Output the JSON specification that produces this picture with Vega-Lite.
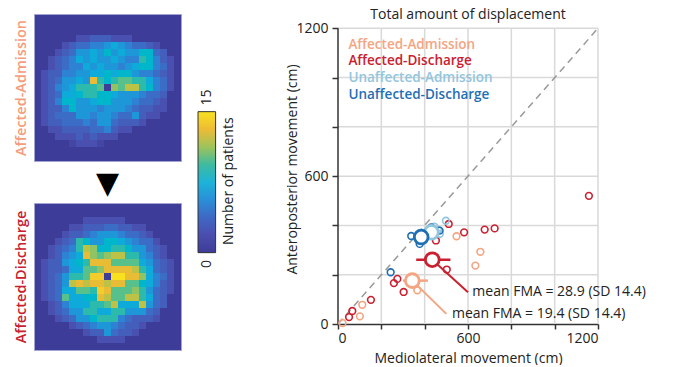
{
  "$schema": "https://vega.github.io/schema/vega-lite/v6.json",
  "padding": {"left": 12, "top": 8, "right": 0, "bottom": 0},
  "spacing": 15,
  "config": {"font": "Open Sans", "view": {"stroke": null}},
  "datasets": {
    "adm": [
      {"r":3,"c":6,"v":2},{"r":3,"c":7,"v":2},{"r":3,"c":8,"v":3},{"r":3,"c":9,"v":3},{"r":3,"c":10,"v":3},{"r":3,"c":11,"v":2},{"r":3,"c":12,"v":2},{"r":3,"c":13,"v":2},
      {"r":4,"c":4,"v":2},{"r":4,"c":5,"v":3},{"r":4,"c":6,"v":4},{"r":4,"c":7,"v":4},{"r":4,"c":8,"v":5},{"r":4,"c":9,"v":5},{"r":4,"c":10,"v":6},{"r":4,"c":11,"v":7},{"r":4,"c":12,"v":6},{"r":4,"c":13,"v":5},{"r":4,"c":14,"v":4},{"r":4,"c":15,"v":4},{"r":4,"c":16,"v":3},{"r":4,"c":17,"v":2},
      {"r":5,"c":3,"v":2},{"r":5,"c":4,"v":3},{"r":5,"c":5,"v":4},{"r":5,"c":6,"v":6},{"r":5,"c":7,"v":6},{"r":5,"c":8,"v":7},{"r":5,"c":9,"v":6},{"r":5,"c":10,"v":8},{"r":5,"c":11,"v":6},{"r":5,"c":12,"v":7},{"r":5,"c":13,"v":6},{"r":5,"c":14,"v":6},{"r":5,"c":15,"v":8},{"r":5,"c":16,"v":8},{"r":5,"c":17,"v":4},{"r":5,"c":18,"v":3},
      {"r":6,"c":2,"v":2},{"r":6,"c":3,"v":3},{"r":6,"c":4,"v":4},{"r":6,"c":5,"v":5},{"r":6,"c":6,"v":7},{"r":6,"c":7,"v":6},{"r":6,"c":8,"v":7},{"r":6,"c":9,"v":6},{"r":6,"c":10,"v":6},{"r":6,"c":11,"v":7},{"r":6,"c":12,"v":6},{"r":6,"c":13,"v":5},{"r":6,"c":14,"v":5},{"r":6,"c":15,"v":9},{"r":6,"c":16,"v":8},{"r":6,"c":17,"v":5},{"r":6,"c":18,"v":3},{"r":6,"c":19,"v":2},
      {"r":7,"c":2,"v":2},{"r":7,"c":3,"v":3},{"r":7,"c":4,"v":4},{"r":7,"c":5,"v":5},{"r":7,"c":6,"v":5},{"r":7,"c":7,"v":7},{"r":7,"c":8,"v":6},{"r":7,"c":9,"v":7},{"r":7,"c":10,"v":6},{"r":7,"c":11,"v":6},{"r":7,"c":12,"v":5},{"r":7,"c":13,"v":6},{"r":7,"c":14,"v":7},{"r":7,"c":15,"v":8},{"r":7,"c":16,"v":8},{"r":7,"c":17,"v":5},{"r":7,"c":18,"v":4},{"r":7,"c":19,"v":2},
      {"r":8,"c":1,"v":2},{"r":8,"c":2,"v":3},{"r":8,"c":3,"v":3},{"r":8,"c":4,"v":5},{"r":8,"c":5,"v":5},{"r":8,"c":6,"v":6},{"r":8,"c":7,"v":6},{"r":8,"c":8,"v":7},{"r":8,"c":9,"v":7},{"r":8,"c":10,"v":8},{"r":8,"c":11,"v":7},{"r":8,"c":12,"v":8},{"r":8,"c":13,"v":8},{"r":8,"c":14,"v":6},{"r":8,"c":15,"v":5},{"r":8,"c":16,"v":5},{"r":8,"c":17,"v":4},{"r":8,"c":18,"v":3},{"r":8,"c":19,"v":2},
      {"r":9,"c":1,"v":2},{"r":9,"c":2,"v":3},{"r":9,"c":3,"v":4},{"r":9,"c":4,"v":6},{"r":9,"c":5,"v":6},{"r":9,"c":6,"v":7},{"r":9,"c":7,"v":6},{"r":9,"c":8,"v":13},{"r":9,"c":9,"v":9},{"r":9,"c":10,"v":8},{"r":9,"c":11,"v":9},{"r":9,"c":12,"v":10},{"r":9,"c":13,"v":10},{"r":9,"c":14,"v":9},{"r":9,"c":15,"v":9},{"r":9,"c":16,"v":7},{"r":9,"c":17,"v":5},{"r":9,"c":18,"v":4},{"r":9,"c":19,"v":2},
      {"r":10,"c":1,"v":2},{"r":10,"c":2,"v":3},{"r":10,"c":3,"v":5},{"r":10,"c":4,"v":6},{"r":10,"c":5,"v":7},{"r":10,"c":6,"v":9},{"r":10,"c":7,"v":9},{"r":10,"c":8,"v":9},{"r":10,"c":9,"v":10},{"r":10,"c":11,"v":11},{"r":10,"c":12,"v":10},{"r":10,"c":13,"v":12},{"r":10,"c":14,"v":12},{"r":10,"c":15,"v":9},{"r":10,"c":16,"v":8},{"r":10,"c":17,"v":5},{"r":10,"c":18,"v":4},{"r":10,"c":19,"v":2},
      {"r":11,"c":1,"v":2},{"r":11,"c":2,"v":3},{"r":11,"c":3,"v":4},{"r":11,"c":4,"v":7},{"r":11,"c":5,"v":7},{"r":11,"c":6,"v":8},{"r":11,"c":7,"v":9},{"r":11,"c":8,"v":9},{"r":11,"c":9,"v":8},{"r":11,"c":10,"v":8},{"r":11,"c":11,"v":7},{"r":11,"c":12,"v":6},{"r":11,"c":13,"v":6},{"r":11,"c":14,"v":6},{"r":11,"c":15,"v":5},{"r":11,"c":16,"v":4},{"r":11,"c":17,"v":4},{"r":11,"c":18,"v":3},
      {"r":12,"c":1,"v":2},{"r":12,"c":2,"v":3},{"r":12,"c":3,"v":5},{"r":12,"c":4,"v":8},{"r":12,"c":5,"v":8},{"r":12,"c":6,"v":6},{"r":12,"c":7,"v":6},{"r":12,"c":8,"v":7},{"r":12,"c":9,"v":8},{"r":12,"c":10,"v":8},{"r":12,"c":11,"v":6},{"r":12,"c":12,"v":6},{"r":12,"c":13,"v":6},{"r":12,"c":14,"v":5},{"r":12,"c":15,"v":4},{"r":12,"c":16,"v":4},{"r":12,"c":17,"v":3},{"r":12,"c":18,"v":2},
      {"r":13,"c":1,"v":2},{"r":13,"c":2,"v":3},{"r":13,"c":3,"v":3},{"r":13,"c":4,"v":5},{"r":13,"c":5,"v":8},{"r":13,"c":6,"v":6},{"r":13,"c":7,"v":6},{"r":13,"c":8,"v":6},{"r":13,"c":9,"v":5},{"r":13,"c":10,"v":6},{"r":13,"c":11,"v":6},{"r":13,"c":12,"v":6},{"r":13,"c":13,"v":5},{"r":13,"c":14,"v":4},{"r":13,"c":15,"v":3},{"r":13,"c":16,"v":3},{"r":13,"c":17,"v":2},{"r":13,"c":18,"v":2},
      {"r":14,"c":1,"v":2},{"r":14,"c":2,"v":3},{"r":14,"c":3,"v":4},{"r":14,"c":4,"v":4},{"r":14,"c":5,"v":4},{"r":14,"c":6,"v":6},{"r":14,"c":7,"v":6},{"r":14,"c":8,"v":5},{"r":14,"c":9,"v":6},{"r":14,"c":10,"v":6},{"r":14,"c":11,"v":5},{"r":14,"c":12,"v":4},{"r":14,"c":13,"v":4},{"r":14,"c":14,"v":6},{"r":14,"c":15,"v":3},{"r":14,"c":16,"v":2},{"r":14,"c":17,"v":2},
      {"r":15,"c":1,"v":2},{"r":15,"c":2,"v":3},{"r":15,"c":3,"v":3},{"r":15,"c":4,"v":4},{"r":15,"c":5,"v":4},{"r":15,"c":6,"v":4},{"r":15,"c":7,"v":5},{"r":15,"c":8,"v":4},{"r":15,"c":9,"v":6},{"r":15,"c":10,"v":6},{"r":15,"c":11,"v":4},{"r":15,"c":12,"v":3},{"r":15,"c":13,"v":3},{"r":15,"c":14,"v":3},{"r":15,"c":15,"v":2},
      {"r":16,"c":2,"v":2},{"r":16,"c":3,"v":2},{"r":16,"c":4,"v":3},{"r":16,"c":5,"v":3},{"r":16,"c":6,"v":3},{"r":16,"c":7,"v":3},{"r":16,"c":8,"v":4},{"r":16,"c":9,"v":4},{"r":16,"c":10,"v":5},{"r":16,"c":11,"v":3},{"r":16,"c":12,"v":2},{"r":16,"c":13,"v":2},
      {"r":17,"c":3,"v":2},{"r":17,"c":4,"v":2},{"r":17,"c":5,"v":2},{"r":17,"c":6,"v":3},{"r":17,"c":7,"v":2},{"r":17,"c":8,"v":3},{"r":17,"c":9,"v":2},{"r":17,"c":10,"v":2},{"r":17,"c":11,"v":2},
      {"r":18,"c":5,"v":1},{"r":18,"c":6,"v":2},{"r":18,"c":7,"v":2},{"r":18,"c":8,"v":2},{"r":18,"c":9,"v":1}
    ],
    "dis": [
      {"r":2,"c":7,"v":2},{"r":2,"c":8,"v":2},{"r":2,"c":9,"v":2},{"r":2,"c":10,"v":2},{"r":2,"c":11,"v":2},{"r":2,"c":12,"v":2},
      {"r":3,"c":5,"v":2},{"r":3,"c":6,"v":2},{"r":3,"c":7,"v":3},{"r":3,"c":8,"v":3},{"r":3,"c":9,"v":3},{"r":3,"c":10,"v":4},{"r":3,"c":11,"v":4},{"r":3,"c":12,"v":3},{"r":3,"c":13,"v":3},{"r":3,"c":14,"v":2},{"r":3,"c":15,"v":2},
      {"r":4,"c":4,"v":2},{"r":4,"c":5,"v":3},{"r":4,"c":6,"v":3},{"r":4,"c":7,"v":4},{"r":4,"c":8,"v":5},{"r":4,"c":9,"v":6},{"r":4,"c":10,"v":6},{"r":4,"c":11,"v":6},{"r":4,"c":12,"v":5},{"r":4,"c":13,"v":4},{"r":4,"c":14,"v":4},{"r":4,"c":15,"v":3},{"r":4,"c":16,"v":2},
      {"r":5,"c":3,"v":2},{"r":5,"c":4,"v":3},{"r":5,"c":5,"v":4},{"r":5,"c":6,"v":9},{"r":5,"c":7,"v":8},{"r":5,"c":8,"v":6},{"r":5,"c":9,"v":6},{"r":5,"c":10,"v":8},{"r":5,"c":11,"v":8},{"r":5,"c":12,"v":7},{"r":5,"c":13,"v":6},{"r":5,"c":14,"v":5},{"r":5,"c":15,"v":4},{"r":5,"c":16,"v":4},{"r":5,"c":17,"v":2},
      {"r":6,"c":2,"v":2},{"r":6,"c":3,"v":3},{"r":6,"c":4,"v":4},{"r":6,"c":5,"v":5},{"r":6,"c":6,"v":9},{"r":6,"c":7,"v":12},{"r":6,"c":8,"v":11},{"r":6,"c":9,"v":8},{"r":6,"c":10,"v":8},{"r":6,"c":11,"v":9},{"r":6,"c":12,"v":9},{"r":6,"c":13,"v":8},{"r":6,"c":14,"v":6},{"r":6,"c":15,"v":6},{"r":6,"c":16,"v":4},{"r":6,"c":17,"v":3},{"r":6,"c":18,"v":2},
      {"r":7,"c":2,"v":2},{"r":7,"c":3,"v":3},{"r":7,"c":4,"v":5},{"r":7,"c":5,"v":6},{"r":7,"c":6,"v":7},{"r":7,"c":7,"v":13},{"r":7,"c":8,"v":11},{"r":7,"c":9,"v":10},{"r":7,"c":10,"v":11},{"r":7,"c":11,"v":12},{"r":7,"c":12,"v":12},{"r":7,"c":13,"v":9},{"r":7,"c":14,"v":9},{"r":7,"c":15,"v":6},{"r":7,"c":16,"v":5},{"r":7,"c":17,"v":3},{"r":7,"c":18,"v":2},
      {"r":8,"c":1,"v":2},{"r":8,"c":2,"v":3},{"r":8,"c":3,"v":3},{"r":8,"c":4,"v":6},{"r":8,"c":5,"v":7},{"r":8,"c":6,"v":8},{"r":8,"c":7,"v":9},{"r":8,"c":8,"v":13},{"r":8,"c":9,"v":13},{"r":8,"c":10,"v":13},{"r":8,"c":11,"v":10},{"r":8,"c":12,"v":10},{"r":8,"c":13,"v":10},{"r":8,"c":14,"v":10},{"r":8,"c":15,"v":7},{"r":8,"c":16,"v":6},{"r":8,"c":17,"v":4},{"r":8,"c":18,"v":3},{"r":8,"c":19,"v":2},
      {"r":9,"c":1,"v":2},{"r":9,"c":2,"v":3},{"r":9,"c":3,"v":3},{"r":9,"c":4,"v":4},{"r":9,"c":5,"v":7},{"r":9,"c":6,"v":7},{"r":9,"c":7,"v":10},{"r":9,"c":8,"v":10},{"r":9,"c":9,"v":11},{"r":9,"c":10,"v":13},{"r":9,"c":11,"v":13},{"r":9,"c":12,"v":13},{"r":9,"c":13,"v":13},{"r":9,"c":14,"v":12},{"r":9,"c":15,"v":9},{"r":9,"c":16,"v":7},{"r":9,"c":17,"v":4},{"r":9,"c":18,"v":3},{"r":9,"c":19,"v":2},
      {"r":10,"c":1,"v":2},{"r":10,"c":2,"v":3},{"r":10,"c":3,"v":4},{"r":10,"c":4,"v":6},{"r":10,"c":5,"v":9},{"r":10,"c":6,"v":9},{"r":10,"c":7,"v":10},{"r":10,"c":8,"v":14},{"r":10,"c":9,"v":14},{"r":10,"c":11,"v":15},{"r":10,"c":12,"v":15},{"r":10,"c":13,"v":13},{"r":10,"c":14,"v":13},{"r":10,"c":15,"v":11},{"r":10,"c":16,"v":7},{"r":10,"c":17,"v":5},{"r":10,"c":18,"v":4},{"r":10,"c":19,"v":2},
      {"r":11,"c":1,"v":2},{"r":11,"c":2,"v":3},{"r":11,"c":3,"v":4},{"r":11,"c":4,"v":6},{"r":11,"c":5,"v":12},{"r":11,"c":6,"v":13},{"r":11,"c":7,"v":12},{"r":11,"c":8,"v":13},{"r":11,"c":9,"v":13},{"r":11,"c":10,"v":12},{"r":11,"c":11,"v":13},{"r":11,"c":12,"v":13},{"r":11,"c":13,"v":10},{"r":11,"c":14,"v":10},{"r":11,"c":15,"v":8},{"r":11,"c":16,"v":7},{"r":11,"c":17,"v":5},{"r":11,"c":18,"v":3},{"r":11,"c":19,"v":2},
      {"r":12,"c":1,"v":2},{"r":12,"c":2,"v":3},{"r":12,"c":3,"v":4},{"r":12,"c":4,"v":7},{"r":12,"c":5,"v":7},{"r":12,"c":6,"v":10},{"r":12,"c":7,"v":10},{"r":12,"c":8,"v":9},{"r":12,"c":9,"v":14},{"r":12,"c":10,"v":13},{"r":12,"c":11,"v":10},{"r":12,"c":12,"v":10},{"r":12,"c":13,"v":10},{"r":12,"c":14,"v":11},{"r":12,"c":15,"v":9},{"r":12,"c":16,"v":6},{"r":12,"c":17,"v":4},{"r":12,"c":18,"v":3},{"r":12,"c":19,"v":2},
      {"r":13,"c":1,"v":2},{"r":13,"c":2,"v":3},{"r":13,"c":3,"v":4},{"r":13,"c":4,"v":10},{"r":13,"c":5,"v":7},{"r":13,"c":6,"v":7},{"r":13,"c":7,"v":8},{"r":13,"c":8,"v":8},{"r":13,"c":9,"v":13},{"r":13,"c":10,"v":12},{"r":13,"c":11,"v":10},{"r":13,"c":12,"v":10},{"r":13,"c":13,"v":12},{"r":13,"c":14,"v":12},{"r":13,"c":15,"v":9},{"r":13,"c":16,"v":7},{"r":13,"c":17,"v":4},{"r":13,"c":18,"v":3},
      {"r":14,"c":2,"v":2},{"r":14,"c":3,"v":3},{"r":14,"c":4,"v":5},{"r":14,"c":5,"v":7},{"r":14,"c":6,"v":7},{"r":14,"c":7,"v":7},{"r":14,"c":8,"v":9},{"r":14,"c":9,"v":9},{"r":14,"c":10,"v":10},{"r":14,"c":11,"v":12},{"r":14,"c":12,"v":7},{"r":14,"c":13,"v":7},{"r":14,"c":14,"v":7},{"r":14,"c":15,"v":12},{"r":14,"c":16,"v":6},{"r":14,"c":17,"v":4},{"r":14,"c":18,"v":3},
      {"r":15,"c":2,"v":2},{"r":15,"c":3,"v":3},{"r":15,"c":4,"v":4},{"r":15,"c":5,"v":6},{"r":15,"c":6,"v":6},{"r":15,"c":7,"v":9},{"r":15,"c":8,"v":9},{"r":15,"c":9,"v":7},{"r":15,"c":10,"v":7},{"r":15,"c":11,"v":9},{"r":15,"c":12,"v":9},{"r":15,"c":13,"v":6},{"r":15,"c":14,"v":6},{"r":15,"c":15,"v":6},{"r":15,"c":16,"v":4},{"r":15,"c":17,"v":3},
      {"r":16,"c":3,"v":2},{"r":16,"c":4,"v":3},{"r":16,"c":5,"v":4},{"r":16,"c":6,"v":6},{"r":16,"c":7,"v":6},{"r":16,"c":8,"v":8},{"r":16,"c":9,"v":9},{"r":16,"c":10,"v":9},{"r":16,"c":11,"v":9},{"r":16,"c":12,"v":5},{"r":16,"c":13,"v":4},{"r":16,"c":14,"v":3},{"r":16,"c":15,"v":3},{"r":16,"c":16,"v":3},{"r":16,"c":17,"v":2},
      {"r":17,"c":5,"v":2},{"r":17,"c":6,"v":3},{"r":17,"c":7,"v":4},{"r":17,"c":8,"v":5},{"r":17,"c":9,"v":6},{"r":17,"c":10,"v":6},{"r":17,"c":11,"v":5},{"r":17,"c":12,"v":4},{"r":17,"c":13,"v":3},{"r":17,"c":14,"v":3},{"r":17,"c":15,"v":2},
      {"r":18,"c":7,"v":2},{"r":18,"c":8,"v":3},{"r":18,"c":9,"v":3},{"r":18,"c":10,"v":6},{"r":18,"c":11,"v":4},{"r":18,"c":12,"v":3},{"r":18,"c":13,"v":3},{"r":18,"c":14,"v":2},
      {"r":19,"c":9,"v":2},{"r":19,"c":10,"v":2},{"r":19,"c":11,"v":2},{"r":19,"c":12,"v":2}
    ],
    "pts": [
      {"g":"Affected-Discharge","x":1158,"y":520},{"g":"Affected-Discharge","x":723,"y":388},{"g":"Affected-Discharge","x":677,"y":383},{"g":"Affected-Discharge","x":582,"y":372},{"g":"Affected-Discharge","x":511,"y":406},{"g":"Affected-Discharge","x":452,"y":339},{"g":"Affected-Discharge","x":502,"y":221},{"g":"Affected-Discharge","x":274,"y":183},{"g":"Affected-Discharge","x":258,"y":166},{"g":"Affected-Discharge","x":303,"y":130},{"g":"Affected-Discharge","x":152,"y":98},{"g":"Affected-Discharge","x":66,"y":53},{"g":"Affected-Discharge","x":51,"y":28},
      {"g":"Affected-Admission","x":547,"y":356},{"g":"Affected-Admission","x":657,"y":293},{"g":"Affected-Admission","x":634,"y":237},{"g":"Affected-Admission","x":366,"y":137},{"g":"Affected-Admission","x":112,"y":78},{"g":"Affected-Admission","x":101,"y":31},{"g":"Affected-Admission","x":21,"y":4},
      {"g":"Unaffected-Admission","x":498,"y":419},{"g":"Unaffected-Admission","x":462,"y":382},{"g":"Unaffected-Admission","x":445,"y":395},{"g":"Unaffected-Admission","x":470,"y":366},
      {"g":"Unaffected-Discharge","x":338,"y":357},{"g":"Unaffected-Discharge","x":377,"y":325},{"g":"Unaffected-Discharge","x":469,"y":379},{"g":"Unaffected-Discharge","x":430,"y":392},{"g":"Unaffected-Discharge","x":243,"y":210}
    ],
    "means": [
      {"g":"Unaffected-Admission","x":431,"y":372},
      {"g":"Unaffected-Discharge","x":384,"y":353},
      {"g":"Affected-Admission","x":343,"y":176},
      {"g":"Affected-Discharge","x":435,"y":261}
    ],
    "errs": [
      {"g":"Affected-Admission","x":300,"x2":415,"y":176,"y2":176},
      {"g":"Affected-Admission","x":343,"x2":343,"y":150,"y2":200},
      {"g":"Affected-Discharge","x":361,"x2":519,"y":261,"y2":261},
      {"g":"Affected-Discharge","x":435,"x2":435,"y":237,"y2":291}
    ],
    "leaders": [
      {"g":"Affected-Discharge","x":435,"x2":600,"y":261,"y2":129},
      {"g":"Affected-Admission","x":343,"x2":500,"y":176,"y2":41}
    ],
    "notes": [
      {"t":"mean FMA = 28.9 (SD 14.4)","x":620,"y":129},
      {"t":"mean FMA = 19.4 (SD 14.4)","x":526,"y":41}
    ],
    "legend": [
      {"t":"Affected-Admission","g":"Affected-Admission","x":48,"y":1132},
      {"t":"Affected-Discharge","g":"Affected-Discharge","x":48,"y":1066},
      {"t":"Unaffected-Admission","g":"Unaffected-Admission","x":48,"y":998},
      {"t":"Unaffected-Discharge","g":"Unaffected-Discharge","x":48,"y":929}
    ],
    "grid": [{"p":200},{"p":400},{"p":600},{"p":800},{"p":1000},{"p":1200}]
  },
  "hconcat": [
    {
      "spacing": 6,
      "vconcat": [
        {
          "width": 147, "height": 147,
          "view": {"fill": "#3d3c98", "stroke": "#a4a4d4", "strokeWidth": 1},
          "data": {"name": "adm"},
          "mark": {"type": "rect"},
          "encoding": {
            "x": {"field": "c", "type": "ordinal", "scale": {"domain": [0,1,2,3,4,5,6,7,8,9,10,11,12,13,14,15,16,17,18,19,20], "paddingInner": 0, "paddingOuter": 0}, "axis": null},
            "y": {"field": "r", "type": "ordinal", "scale": {"domain": [0,1,2,3,4,5,6,7,8,9,10,11,12,13,14,15,16,17,18,19,20], "paddingInner": 0, "paddingOuter": 0},
                  "axis": {"title": "Affected-Admission", "labels": false, "ticks": false, "domain": false, "titleColor": "#f59c7c", "titleFontSize": 14.5, "titleFontWeight": 600, "titlePadding": 6}},
            "color": {"field": "v", "type": "quantitative", "legend": null,
                      "scale": {"domain": [0,1.875,3.75,5.625,7.5,9.375,11.25,13.125,15], "range": ["#3d3c98","#4a4eae","#3f68c4","#2a8fd8","#1db3d8","#3fbaa0","#9ec35a","#eebb34","#f8e11f"]}}
          }
        },
        {
          "width": 147, "height": 147,
          "title": {"text": "▼", "font": "DejaVu Sans", "fontSize": 30, "color": "#000", "anchor": "middle", "offset": 4},
          "view": {"fill": "#3d3c98", "stroke": "#a4a4d4", "strokeWidth": 1},
          "data": {"name": "dis"},
          "mark": {"type": "rect"},
          "encoding": {
            "x": {"field": "c", "type": "ordinal", "scale": {"domain": [0,1,2,3,4,5,6,7,8,9,10,11,12,13,14,15,16,17,18,19,20], "paddingInner": 0, "paddingOuter": 0}, "axis": null},
            "y": {"field": "r", "type": "ordinal", "scale": {"domain": [0,1,2,3,4,5,6,7,8,9,10,11,12,13,14,15,16,17,18,19,20], "paddingInner": 0, "paddingOuter": 0},
                  "axis": {"title": "Affected-Discharge", "labels": false, "ticks": false, "domain": false, "titleColor": "#c8202e", "titleFontSize": 14.5, "titleFontWeight": 600, "titlePadding": 6}},
            "color": {"field": "v", "type": "quantitative", "legend": null,
                      "scale": {"domain": [0,1.875,3.75,5.625,7.5,9.375,11.25,13.125,15], "range": ["#3d3c98","#4a4eae","#3f68c4","#2a8fd8","#1db3d8","#3fbaa0","#9ec35a","#eebb34","#f8e11f"]}}
          }
        }
      ]
    },
    {
      "width": 72, "height": 335,
      "layer": [
        {
          "data": {"values": [{}]},
          "mark": {"type": "rect", "stroke": "#333", "strokeWidth": 1,
                   "fill": {"gradient": "linear", "x1": 0, "y1": 1, "x2": 0, "y2": 0,
                            "stops": [{"offset":0,"color":"#3d3c98"},{"offset":0.125,"color":"#4a4eae"},{"offset":0.25,"color":"#3f68c4"},{"offset":0.375,"color":"#2a8fd8"},{"offset":0.5,"color":"#1db3d8"},{"offset":0.625,"color":"#3fbaa0"},{"offset":0.75,"color":"#9ec35a"},{"offset":0.875,"color":"#eebb34"},{"offset":1,"color":"#f8e11f"}]}},
          "encoding": {
            "x": {"datum": 0, "type": "quantitative", "scale": {"domain": [0, 4.09], "nice": false, "zero": false}, "axis": null},
            "x2": {"datum": 1},
            "y": {"datum": 0, "type": "quantitative", "scale": {"domain": [-10.25, 25.39], "nice": false, "zero": false}, "axis": null},
            "y2": {"datum": 15}
          }
        },
        {
          "data": {"values": [{"t": "0", "x": 0.5, "v": -1.2}, {"t": "15", "x": 0.5, "v": 16.5}, {"t": "Number of patients", "x": 1.74, "v": 7.6}]},
          "mark": {"type": "text", "angle": 270, "fontSize": 14, "color": "#222", "align": "center", "baseline": "middle"},
          "encoding": {
            "x": {"field": "x", "type": "quantitative"},
            "y": {"field": "v", "type": "quantitative"},
            "text": {"field": "t"}
          }
        }
      ]
    },
    {
      "width": 260, "height": 310,
      "title": {"text": "Total amount of displacement", "fontSize": 14, "fontWeight": "normal", "color": "#222", "anchor": "middle", "offset": -8},
      "layer": [
        {
          "data": {"name": "grid"},
          "mark": {"type": "rule", "color": "#d9d9d9", "strokeWidth": 1.5},
          "encoding": {
            "x": {"field": "p", "type": "quantitative", "scale": {"domain": [0, 1200], "nice": false, "zero": false},
                  "axis": {"values": [0,200,400,600,800,1000,1200], "labelExpr": "datum.value % 600 === 0 ? datum.value : ''", "title": "Mediolateral movement (cm)", "grid": false,
                           "domainColor": "#333", "domainWidth": 1.5, "tickColor": "#333", "tickWidth": 1.5, "tickSize": 5, "labelFontSize": 14, "labelColor": "#222", "labelPadding": 2,
                           "titleFontSize": 14, "titleFontWeight": "normal", "titleColor": "#222", "titlePadding": 6}},
            "y": {"datum": 0, "type": "quantitative", "scale": {"domain": [0, 1258], "nice": false, "zero": false},
                  "axis": {"values": [0,200,400,600,800,1000,1200], "labelExpr": "datum.value % 600 === 0 ? datum.value : ''", "title": "Anteroposterior movement (cm)", "grid": false,
                           "domain": false, "tickColor": "#333", "tickWidth": 1.5, "tickSize": 6, "labelFontSize": 14, "labelColor": "#222", "labelPadding": 4,
                           "titleFontSize": 14, "titleFontWeight": "normal", "titleColor": "#222", "titlePadding": -4}},
            "y2": {"datum": 1200}
          }
        },
        {
          "data": {"name": "grid"},
          "mark": {"type": "rule", "color": "#d9d9d9", "strokeWidth": 1.5},
          "encoding": {
            "y": {"field": "p", "type": "quantitative"},
            "x": {"datum": 0, "type": "quantitative"},
            "x2": {"datum": 1200}
          }
        },
        {
          "data": {"values": [{}]},
          "mark": {"type": "rule", "color": "#333", "strokeWidth": 1.5},
          "encoding": {
            "x": {"datum": 0, "type": "quantitative"},
            "y": {"datum": 0, "type": "quantitative"},
            "y2": {"datum": 1200}
          }
        },
        {
          "data": {"values": [{}]},
          "mark": {"type": "rule", "color": "#999", "strokeWidth": 1.5, "strokeDash": [7, 5]},
          "encoding": {
            "x": {"datum": 0, "type": "quantitative"},
            "y": {"datum": 0, "type": "quantitative"},
            "x2": {"datum": 1200},
            "y2": {"datum": 1200}
          }
        },
        {
          "data": {"name": "pts"},
          "mark": {"type": "point", "filled": false, "size": 45, "strokeWidth": 1.6, "opacity": 1},
          "encoding": {
            "x": {"field": "x", "type": "quantitative"},
            "y": {"field": "y", "type": "quantitative"},
            "color": {"field": "g", "type": "nominal", "legend": null,
                      "scale": {"domain": ["Affected-Admission","Affected-Discharge","Unaffected-Admission","Unaffected-Discharge"], "range": ["#f4a582","#ca2030","#92c5de","#1f6fb4"]}}
          }
        },
        {
          "data": {"name": "leaders"},
          "mark": {"type": "rule", "strokeWidth": 2},
          "encoding": {
            "x": {"field": "x", "type": "quantitative"},
            "y": {"field": "y", "type": "quantitative"},
            "x2": {"field": "x2"},
            "y2": {"field": "y2"},
            "color": {"field": "g", "type": "nominal", "legend": null}
          }
        },
        {
          "data": {"name": "errs"},
          "mark": {"type": "rule", "strokeWidth": 2.5},
          "encoding": {
            "x": {"field": "x", "type": "quantitative"},
            "y": {"field": "y", "type": "quantitative"},
            "x2": {"field": "x2"},
            "y2": {"field": "y2"},
            "color": {"field": "g", "type": "nominal", "legend": null}
          }
        },
        {
          "data": {"name": "means"},
          "mark": {"type": "point", "filled": false, "fill": "white", "size": 190, "strokeWidth": 2.8, "opacity": 1},
          "encoding": {
            "x": {"field": "x", "type": "quantitative"},
            "y": {"field": "y", "type": "quantitative"},
            "color": {"field": "g", "type": "nominal", "legend": null}
          }
        },
        {
          "data": {"name": "notes"},
          "mark": {"type": "text", "align": "left", "baseline": "middle", "fontSize": 14, "color": "#222"},
          "encoding": {
            "x": {"field": "x", "type": "quantitative"},
            "y": {"field": "y", "type": "quantitative"},
            "text": {"field": "t"}
          }
        },
        {
          "data": {"name": "legend"},
          "mark": {"type": "text", "align": "left", "baseline": "middle", "fontSize": 13.5, "fontWeight": 600},
          "encoding": {
            "x": {"field": "x", "type": "quantitative"},
            "y": {"field": "y", "type": "quantitative"},
            "text": {"field": "t"},
            "color": {"field": "g", "type": "nominal", "legend": null}
          }
        }
      ]
    }
  ]
}
